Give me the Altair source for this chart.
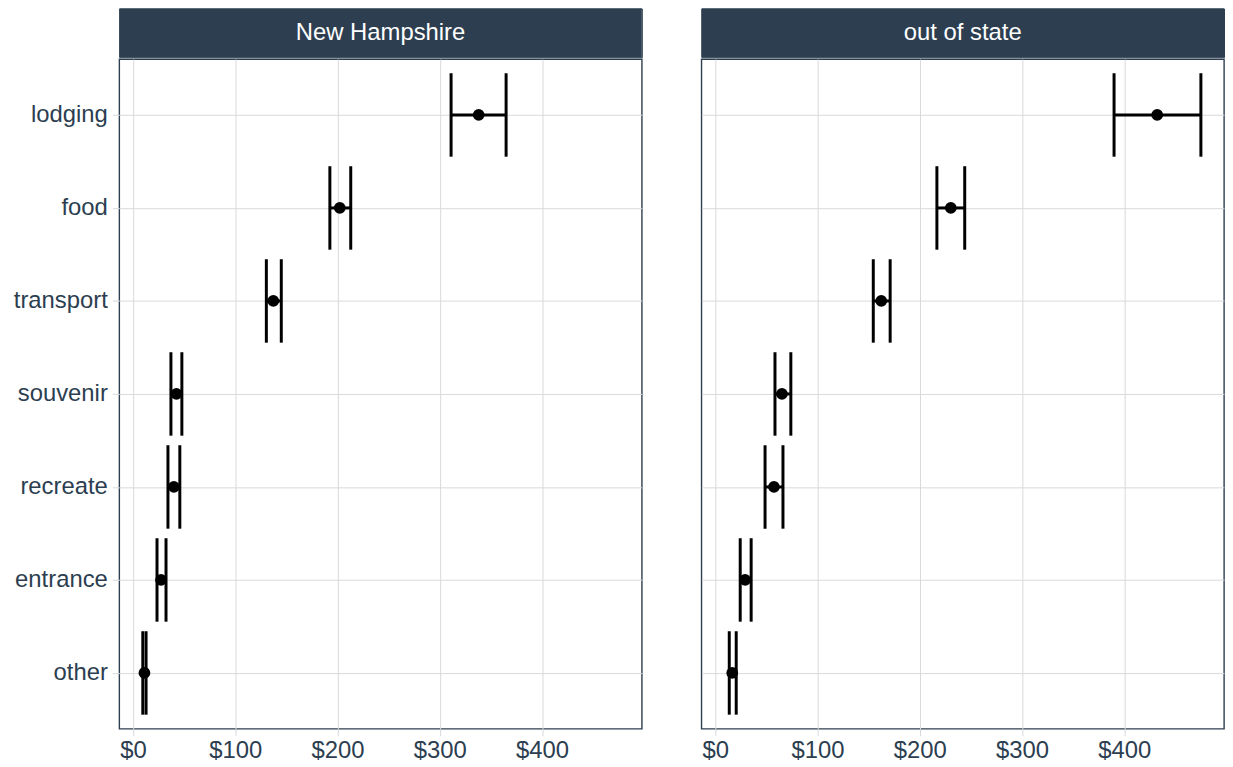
import altair as alt
import pandas as pd

categories = ["lodging", "food", "transport", "souvenir", "recreate", "entrance", "other"]
panels = ["New Hampshire", "out of state"]

nh_mean = [338.0, 202.2, 137.2, 42.5, 40.0, 27.4, 11.2]
nh_lower = [311.0, 192.5, 130.4, 37.1, 34.2, 23.5, 9.6]
nh_upper = [364.8, 212.9, 145.0, 47.8, 45.8, 32.3, 12.8]

oos_mean = [432.2, 230.4, 162.4, 65.3, 57.5, 29.3, 16.7]
oos_lower = [390.0, 216.8, 154.6, 58.5, 48.8, 24.5, 13.8]
oos_upper = [474.9, 244.0, 171.1, 74.0, 66.3, 35.2, 20.6]

x_ticks = [0, 100, 200, 300, 400]
x_domain = [-13.4, 497.5]

STRIP = "#2c3e50"
TXT = "#2c3e50"
GRID = "#d9d9d9"
FONT = "Liberation Sans"
W, H, HH = 526, 674, 49

rows = []
for name, m, lo, up in [(panels[0], nh_mean, nh_lower, nh_upper),
                        (panels[1], oos_mean, oos_lower, oos_upper)]:
    for c, a, b, d in zip(categories, m, lo, up):
        rows.append({"region": name, "category": c, "mean": a, "lower": b, "upper": d})
df = pd.DataFrame(rows)


def make_panel(name, show_y):
    sub = df[df["region"] == name]
    yaxis = alt.Axis(
        title=None, labels=show_y, ticks=show_y, domain=False, grid=True,
        gridColor=GRID, gridWidth=1, tickColor=GRID, tickSize=7, labelPadding=5,
        labelFontSize=24, labelColor=TXT, labelFont=FONT,
        minExtent=111 if show_y else 0, maxExtent=111 if show_y else 0,
    )
    xaxis = alt.Axis(
        title=None, values=x_ticks, format="$.0f", domain=False, grid=True,
        gridColor=GRID, gridWidth=1, tickColor=GRID, tickSize=7, labelPadding=3,
        labelFontSize=24, labelColor=TXT, labelFont=FONT,
    )
    yscale = alt.Scale(type="point", domain=categories, padding=0.6)
    xscale = alt.Scale(domain=x_domain, nice=False, zero=False)

    def Y():
        return alt.Y("category:N", sort=categories, scale=yscale, axis=yaxis)

    def X(f):
        return alt.X(f + ":Q", scale=xscale, axis=xaxis)

    base = alt.Chart(sub)
    rule = base.mark_rule(strokeWidth=3, color="black").encode(x=X("lower"), x2="upper:Q", y=Y())
    cap_l = base.mark_tick(orient="vertical", size=84, thickness=3, color="black", opacity=1).encode(x=X("lower"), y=Y())
    cap_u = base.mark_tick(orient="vertical", size=84, thickness=3, color="black", opacity=1).encode(x=X("upper"), y=Y())
    pt = base.mark_circle(size=140, color="black", opacity=1).encode(x=X("mean"), y=Y())
    plot = alt.layer(rule, cap_l, cap_u, pt).properties(
        width=W, height=H, view=alt.ViewBackground(stroke=STRIP, strokeWidth=1.4))

    hdf = pd.DataFrame({"label": [name]})
    hb = alt.Chart(hdf).mark_rect(color=STRIP, opacity=1).encode(
        x=alt.value(0), x2=alt.value(W), y=alt.value(0), y2=alt.value(HH))
    ht = alt.Chart(hdf).mark_text(color="white", fontSize=24, font=FONT, baseline="middle", align="center").encode(
        text="label:N", x=alt.value(W / 2), y=alt.value(HH / 2))
    header = alt.layer(hb, ht).properties(
        width=W, height=HH, view=alt.ViewBackground(stroke=STRIP, strokeWidth=1))
    return alt.vconcat(header, plot, spacing=0)


chart = alt.hconcat(make_panel(panels[0], True), make_panel(panels[1], False), spacing=58).properties(
    padding={"left": 0, "top": -3, "right": 0, "bottom": 0}
).configure_view(stroke=STRIP, strokeWidth=1.4).configure(background="white")

chart.save("out.html", embed_options={"renderer": "svg", "actions": False})
